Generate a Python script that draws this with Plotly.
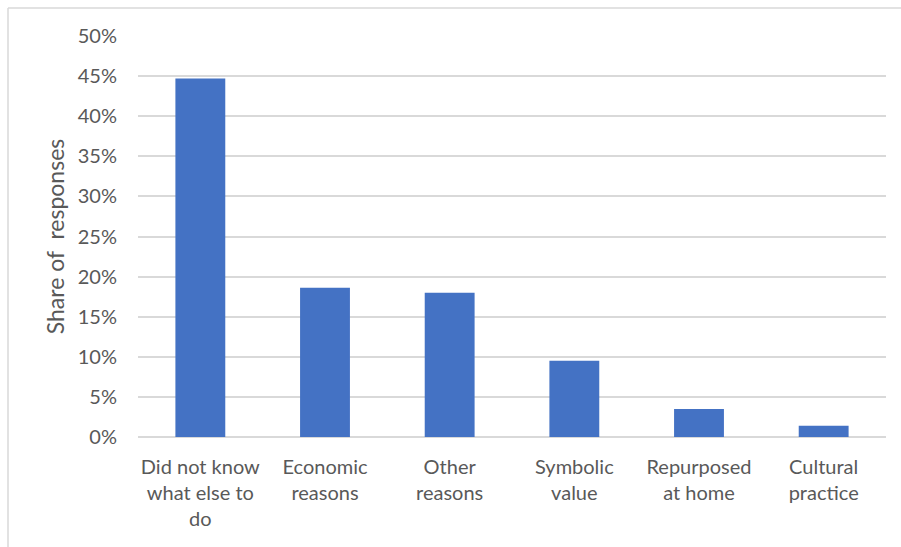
import plotly.graph_objects as go

categories = [
    "Did not know<br>what else to<br>do",
    "Economic<br>reasons",
    "Other<br>reasons",
    "Symbolic<br>value",
    "Repurposed<br>at home",
    "Cultural<br>practice",
]
shares = [0.447, 0.186, 0.180, 0.095, 0.035, 0.014]
y_ticks = [i * 0.05 for i in range(11)]
y_tick_labels = [f"{i * 5}%" for i in range(11)]

FONT = "Lato, Carlito, Calibri, sans-serif"
TEXT = "#595959"
GRID = "#D9D9D9"

fig = go.Figure(
    go.Bar(
        x=categories,
        y=shares,
        marker=dict(color="#4472C4", line=dict(width=0)),
        hoverinfo="x+y",
    )
)

fig.update_layout(
    width=901,
    height=547,
    margin=dict(l=138, r=15, t=36, b=110),
    paper_bgcolor="white",
    plot_bgcolor="white",
    bargap=0.6,
    showlegend=False,
    font=dict(family=FONT, size=20, color=TEXT),
    shapes=[
        # outer chart frame (left and top edges visible)
        dict(type="line", xref="paper", yref="paper",
             x0=-130 / 748, x1=1.2, y0=1 + 28 / 401, y1=1 + 28 / 401,
             line=dict(color="#D9D9D9", width=1.5)),
        dict(type="line", xref="paper", yref="paper",
             x0=-130 / 748, x1=-130 / 748, y0=-0.5, y1=1 + 28 / 401,
             line=dict(color="#D9D9D9", width=1.5)),
    ],
)

fig.update_xaxes(
    showgrid=False,
    showline=False,
    ticks="",
    tickfont=dict(family=FONT, size=20, color=TEXT),
    ticklabelstandoff=16,
)

fig.update_yaxes(
    range=[0, 0.5],
    tickvals=y_ticks,
    ticktext=y_tick_labels,
    showgrid=True,
    gridcolor=GRID,
    gridwidth=1.5,
    zeroline=True,
    zerolinecolor=GRID,
    zerolinewidth=2,
    showline=False,
    ticks="",
    ticklabelstandoff=20,
    tickfont=dict(family=FONT, size=20, color=TEXT),
    title=dict(text="Share of  responses", font=dict(family=FONT, size=23, color=TEXT), standoff=6),
)

fig.write_html("out.html")
